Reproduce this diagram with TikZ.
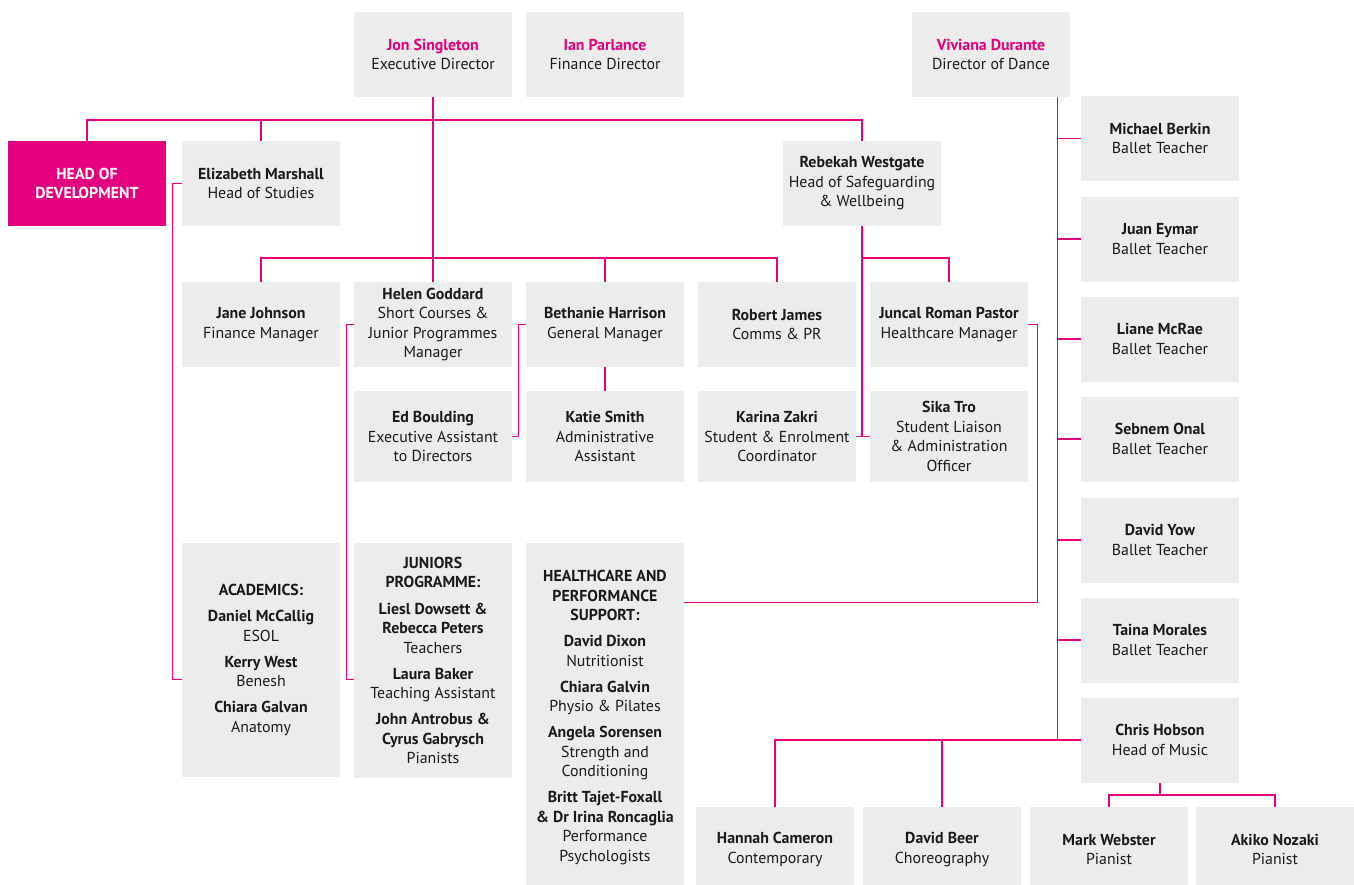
\documentclass[tikz,border=0pt]{standalone}
\usepackage{fontspec}
\setmainfont{PT Sans}
\usetikzlibrary{positioning}
\usetikzlibrary{calc}
\definecolor{brand}{HTML}{E6007E}
\definecolor{boxgrey}{HTML}{ECECEC}
\definecolor{ink}{HTML}{1A1A1A}
\newcommand{\who}[1]{\textbf{#1}}
\newcommand{\boss}[1]{\textcolor{brand}{\textbf{#1}}}

\begin{document}
\begin{tikzpicture}[x=0.75pt,y=-0.75pt]
                % Chart style
                \tikzset{
                    box/.style={fill=boxgrey,text=ink,align=center,inner sep=0pt,
                        minimum width=118.5pt,minimum height=63.75pt,
                        font=\fontsize{11.9}{14.6}\selectfont},
                    tallbox/.style={box,minimum height=#1},
                    link/.style={draw=brand,line width=1.1pt}
                }
                \useasboundingbox (0,0) rectangle (1354,885);

                % Directors
                \node[box] (jon) at (433,54.5) {\boss{Jon Singleton}\\Executive Director};
                \node[box] (ian) at (605,54.5) {\boss{Ian Parlance}\\Finance Director};
                \node[box] (viviana) at (991,54.5) {\boss{Viviana Durante}\\Director of Dance};

                % Heads
                \node[box,fill=brand,text=white] (hod) at (87,183.5) {\who{HEAD OF}\\\who{DEVELOPMENT}};
                \node[box] (elizabeth) at (261,183.5) {\who{Elizabeth Marshall}\\Head of Studies};
                \node[box] (rebekah) at (862,183.5) {\who{Rebekah Westgate}\\Head of Safeguarding\\\& Wellbeing};

                % Managers
                \node[box] (jane) at (261,324.5) {\who{Jane Johnson}\\Finance Manager};
                \node[box] (helen) at (433,324.5) {\who{Helen Goddard}\\Short Courses \&\\Junior Programmes\\Manager};
                \node[box] (bethanie) at (605,324.5) {\who{Bethanie Harrison}\\General Manager};
                \node[box] (robert) at (777,324.5) {\who{Robert James}\\Comms \& PR};
                \node[box] (juncal) at (949,324.5) {\who{Juncal Roman Pastor}\\Healthcare Manager};

                % Assistants
                \node[tallbox=68.25pt] (ed) at (433,436.5) {\who{Ed Boulding}\\Executive Assistant\\to Directors};
                \node[tallbox=68.25pt] (katie) at (605,436.5) {\who{Katie Smith}\\Administrative\\Assistant};
                \node[tallbox=68.25pt] (karina) at (777,436.5) {\who{Karina Zakri}\\Student \& Enrolment\\Coordinator};
                \node[tallbox=68.25pt] (sika) at (949,436.5) {\who{Sika Tro}\\Student Liaison\\\& Administration\\Officer};

                % Groups
                \node[tallbox=175.5pt] (academics) at (261,660) {\who{ACADEMICS:}\\[5pt]
                    \who{Daniel McCallig}\\ESOL\\[5pt]
                    \who{Kerry West}\\Benesh\\[5pt]
                    \who{Chiara Galvan}\\Anatomy};
                \node[tallbox=176.25pt] (juniors) at (433,660.5) {\who{JUNIORS}\\\who{PROGRAMME:}\\[5pt]
                    \who{Liesl Dowsett \&}\\\who{Rebecca Peters}\\Teachers\\[5pt]
                    \who{Laura Baker}\\Teaching Assistant\\[5pt]
                    \who{John Antrobus \&}\\\who{Cyrus Gabrysch}\\Pianists};
                \node[tallbox=261.75pt] (healthcare) at (605,717.5) {\who{HEALTHCARE AND}\\\who{PERFORMANCE}\\\who{SUPPORT:}\\[5pt]
                    \who{David Dixon}\\Nutritionist\\[5pt]
                    \who{Chiara Galvin}\\Physio \& Pilates\\[5pt]
                    \who{Angela Sorensen}\\Strength and\\Conditioning\\[5pt]
                    \who{Britt Tajet-Foxall}\\\who{\& Dr Irina Roncaglia}\\Performance\\Psychologists};

                % Dance staff
                \foreach \nid/\name/\yy in {berkin/Michael Berkin/138.5, eymar/Juan Eymar/239,
                    mcrae/Liane McRae/339, onal/Sebnem Onal/439, yow/David Yow/540,
                    morales/Taina Morales/640}
                    \node[box] (\nid) at (1160,\yy) {\who{\name}\\Ballet Teacher};
                \node[box] (hobson) at (1160,740) {\who{Chris Hobson}\\Head of Music};
                \node[box] (hannah) at (775,849.5) {\who{Hannah Cameron}\\Contemporary};
                \node[box] (beer) at (942,849.5) {\who{David Beer}\\Choreography};
                \node[box] (webster) at (1109,849.5) {\who{Mark Webster}\\Pianist};
                \node[box] (nozaki) at (1275,849.5) {\who{Akiko Nozaki}\\Pianist};

                % Buses
                \coordinate (busA) at (0,120);
                \coordinate (busB) at (0,258);
                \coordinate (busC) at (0,795);

                % Connection
                \draw[link] (hod.north) -- (hod.north |- busA) -- (rebekah.north |- busA) -- (rebekah.north);
                \draw[link] (elizabeth.north) -- (elizabeth.north |- busA);
                \draw[link] (jon.south) -- (helen.north);
                \draw[link] (jane.north) -- (jane.north |- busB) -- (robert.north |- busB) -- (robert.north);
                \draw[link] (bethanie.north) -- (bethanie.north |- busB);
                \draw[link] (bethanie.south) -- (katie.north);
                \draw[link] (rebekah.south) -- (rebekah.south |- karina.east);
                \draw[link] (karina.east) -- (sika.west);
                \draw[link] (rebekah.south |- busB) -| (juncal.north);
                \draw[link] (elizabeth.west) -- ++(-9,0) |- ($(academics.north west)+(0,137)$);
                \draw[link] (helen.west) -- ++(-7,0) |- ($(juniors.north west)+(0,137)$);
                \draw[link] (bethanie.west) -- ++(-7,0) |- (ed.east);
                \draw[link] (juncal.east) -- ++(9,0) |- ($(healthcare.north east)+(0,60)$);
                \draw[link] ($(viviana.south east)+(-13,0)$) |- (hobson.west);
                \foreach \nid in {berkin,eymar,mcrae,onal,yow,morales}
                    \draw[link] (\nid.west) -- ++(-24,0);
                \draw[link] (hannah.north) |- (hobson.west);
                \draw[link] (beer.north) -- (beer.north |- hobson.west);
                \draw[link] (webster.north) -- (webster.north |- busC) -- (nozaki.north |- busC) -- (nozaki.north);
                \draw[link] (hobson.south) -- (hobson.south |- busC);
\end{tikzpicture}
\end{document}
